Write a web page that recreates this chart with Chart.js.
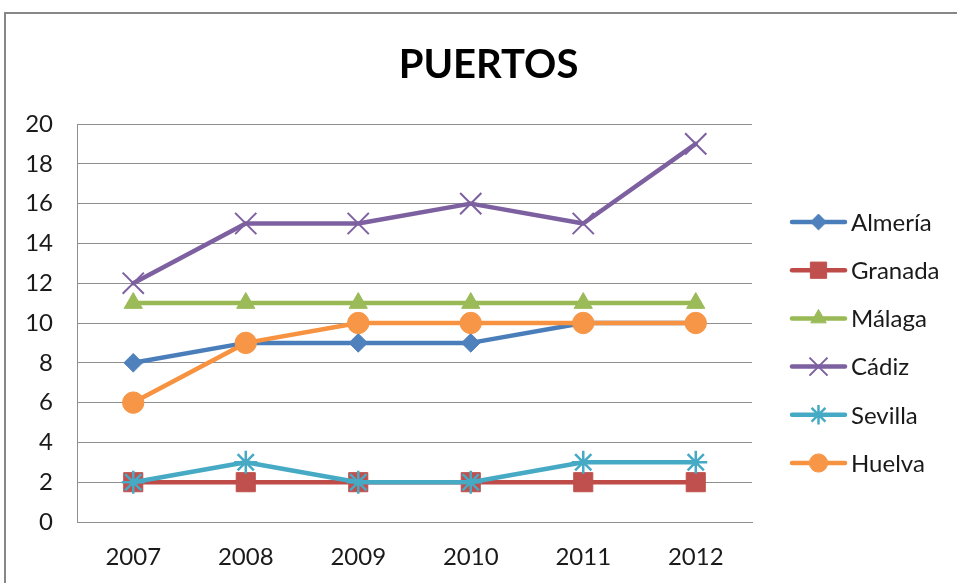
<!DOCTYPE html>
<html><head><meta charset="utf-8">
<script src="https://cdn.jsdelivr.net/npm/chart.js@4/dist/chart.umd.min.js"></script>
<style>html,body{margin:0;padding:0;background:#fff;overflow:hidden}#wrap{width:957px;height:583px;position:relative}</style>
</head><body><div id="wrap"><canvas id="c" width="957" height="583"></canvas></div>
<script>
const categories = ['2007', '2008', '2009', '2010', '2011', '2012'];
const seriesNames = ['Almería', 'Granada', 'Málaga', 'Cádiz', 'Sevilla', 'Huelva'];
const almeria = [8, 9, 9, 9, 10, 10];
const granada = [2, 2, 2, 2, 2, 2];
const malaga = [11, 11, 11, 11, 11, 11];
const cadiz = [12, 15, 15, 16, 15, 19];
const sevilla = [2, 3, 2, 2, 3, 3];
const huelva = [6, 9, 10, 10, 10, 10];
const yTicks = [0, 2, 4, 6, 8, 10, 12, 14, 16, 18, 20];
const titleText = 'PUERTOS';

const seriesValues = [almeria, granada, malaga, cadiz, sevilla, huelva];
const styles = [
  {line: '#4A7EBB', fill: '#4F81BD', point: 'rectRot', r: 9.3, bw: 1},
  {line: '#BE4B48', fill: '#C0504D', point: 'rect', r: 13.5, bw: 1},
  {line: '#98B954', fill: '#9BBB59', point: 'triangle', r: 10.5, bw: 1},
  {line: '#7D60A0', fill: '#8064A2', point: 'crossRot', r: 15, bw: 2},
  {line: '#46AAC5', fill: '#4BACC6', point: 'star', r: 11.5, bw: 2.5},
  {line: '#F69240', fill: '#F79646', point: 'circle', r: 10.7, bw: 1}
];
const FONT = 'Lato, "Open Sans", sans-serif';
const GRID = '#8f8f8f';

const datasets = seriesValues.map((vals, i) => ({
  label: seriesNames[i],
  data: vals,
  borderColor: styles[i].line,
  backgroundColor: styles[i].fill,
  borderWidth: 4.5,
  borderJoinStyle: 'round',
  borderCapStyle: 'round',
  tension: 0,
  pointStyle: styles[i].point,
  pointRadius: styles[i].r,
  pointHoverRadius: styles[i].r,
  pointBackgroundColor: styles[i].fill,
  pointBorderColor: (styles[i].point === 'crossRot' || styles[i].point === 'star') ? styles[i].line : styles[i].fill,
  pointBorderWidth: styles[i].bw,
  order: 6 - i,
  clip: false
}));

const bgBorder = {
  id: 'bgBorder',
  beforeDraw(chart) {
    const ctx = chart.ctx;
    ctx.save();
    ctx.fillStyle = '#fff';
    ctx.fillRect(0, 0, chart.width, chart.height);
    ctx.strokeStyle = '#878787';
    ctx.lineWidth = 2;
    ctx.strokeRect(5, 13, 1200, 1200);
    ctx.restore();
  }
};

const customLegend = {
  id: 'customLegend',
  afterDraw(chart) {
    const ctx = chart.ctx;
    const x1 = chart.chartArea.right + 40;
    const x2 = x1 + 53;
    ctx.save();
    seriesNames.forEach((name, i) => {
      const y = 222 + i * 48.2;
      const s = styles[i];
      ctx.strokeStyle = s.line;
      ctx.lineWidth = 4.5;
      ctx.lineCap = 'round';
      ctx.beginPath();
      ctx.moveTo(x1, y);
      ctx.lineTo(x2, y);
      ctx.stroke();
      ctx.fillStyle = s.fill;
      ctx.strokeStyle = (s.point === 'crossRot' || s.point === 'star') ? s.line : s.fill;
      ctx.lineWidth = s.bw;
      ctx.lineCap = 'butt';
      Chart.helpers.drawPoint(ctx, {pointStyle: s.point, radius: s.r * 0.85, rotation: 0, borderWidth: s.bw}, (x1 + x2) / 2, y);
      ctx.fillStyle = '#1a1a1a';
      ctx.font = '24px ' + FONT;
      ctx.textAlign = 'left';
      ctx.textBaseline = 'middle';
      ctx.fillText(name, x2 + 6, y + 1);
    });
    ctx.restore();
  }
};

new Chart(document.getElementById('c'), {
  type: 'line',
  data: {labels: categories, datasets},
  options: {
    responsive: false,
    animation: false,
    devicePixelRatio: 1,
    layout: {padding: {left: 20, right: 0, top: 0, bottom: 0}},
    plugins: {
      legend: {display: false},
      tooltip: {enabled: false},
      title: {
        display: true,
        text: titleText,
        color: '#000',
        font: {family: FONT, size: 40, weight: 'bold', lineHeight: 1.2},
        padding: {top: 41, bottom: 35}
      }
    },
    scales: {
      x: {
        type: 'category',
        offset: true,
        grid: {display: false, drawTicks: false},
        border: {display: true, color: GRID, width: 1},
        ticks: {color: '#1a1a1a', font: {family: FONT, size: 24}, padding: 20.6, maxRotation: 0},
        afterFit(s) { s.height = 61; }
      },
      y: {
        type: 'linear',
        min: 0, max: 20,
        grid: {display: true, color: GRID, lineWidth: 1, drawTicks: false},
        border: {display: true, color: GRID, width: 1},
        ticks: {color: '#1a1a1a', font: {family: FONT, size: 24}, padding: 24},
        afterBuildTicks(s) { s.ticks = yTicks.map(v => ({value: v})); },
        afterFit(s) { s.width = 57; }
      },
      yR: {
        type: 'linear',
        position: 'right',
        display: true,
        grid: {display: false, drawTicks: false},
        border: {display: false},
        ticks: {display: false},
        afterFit(s) { s.width = 205; }
      }
    }
  },
  plugins: [bgBorder, customLegend]
});
</script>
</body></html>
